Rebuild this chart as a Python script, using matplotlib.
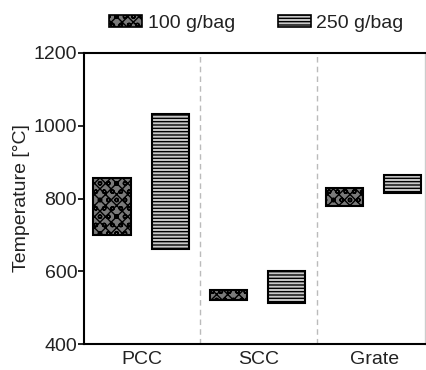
import matplotlib
matplotlib.use("Agg")
import matplotlib.pyplot as plt
from matplotlib.patches import Patch
import numpy as np

plt.rcParams['font.family'] = ['Liberation Sans', 'DejaVu Sans']
plt.rcParams['hatch.linewidth'] = 1.0

categories = ["PCC", "SCC", "Grate"]
series = ["100 g/bag", "250 g/bag"]
low_100 = [700, 520, 780]
high_100 = [855, 550, 830]
low_250 = [662, 512, 815]
high_250 = [1032, 600, 865]
yticks = [400, 600, 800, 1000, 1200]

fig = plt.figure(figsize=(4.27, 3.70), dpi=100)
ax = fig.add_axes([0.197, 0.070, 0.798, 0.787])

FS = 14
x = np.arange(len(categories))
w = 0.32
styles = [
    dict(facecolor="#7a7a7a", edgecolor="black", hatch="xxxoo"),
    dict(facecolor="#c8c8c8", edgecolor="black", hatch="-----"),
]
for off, lo, hi, st in [(-0.26, low_100, high_100, styles[0]),
                        (0.24, low_250, high_250, styles[1])]:
    lo = np.array(lo); hi = np.array(hi)
    ax.bar(x + off, hi - lo, bottom=lo, width=w, linewidth=1.5, **st)

for d in [0.5, 1.5]:
    ax.axvline(d, color="#bbbbbb", linestyle=(0, (4, 3)), linewidth=1.0, zorder=0)

ax.set_xlim(-0.5, 2.43)
ax.set_ylim(400, 1200)
ax.set_yticks(yticks)
ax.set_xticks(x)
ax.set_xticklabels(categories)
ax.tick_params(axis="x", length=0, labelsize=FS, pad=5, labelcolor="#222222")
ax.tick_params(axis="y", length=4, width=1.2, labelsize=FS, pad=1, labelcolor="#222222")
ax.set_ylabel("Temperature [°C]", fontsize=FS, labelpad=3, color="#222222")
for s in ax.spines.values():
    s.set_linewidth(1.5)
ax.spines["right"].set_color("#cccccc")
ax.spines["right"].set_linewidth(1.0)

handles = [Patch(linewidth=1.2, **styles[0]), Patch(linewidth=1.2, **styles[1])]
fig.legend(handles, series, loc="upper center", bbox_to_anchor=(0.60, 1.007),
           ncol=2, frameon=False, fontsize=FS, handlelength=1.7, handleheight=0.55,
           handletextpad=0.3, columnspacing=2.2, labelcolor="#222222")

fig.savefig("out.png", dpi=100)
